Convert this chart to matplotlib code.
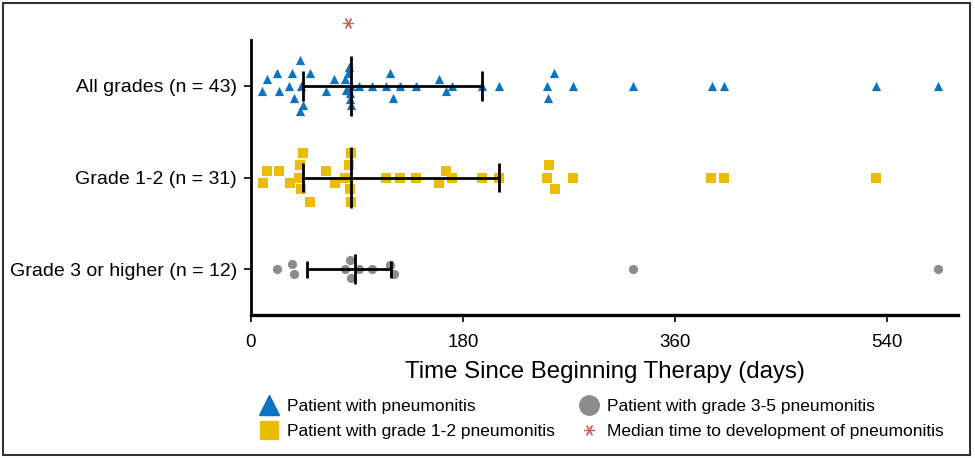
import matplotlib
matplotlib.use('Agg')
import matplotlib.pyplot as plt
from matplotlib.lines import Line2D
from matplotlib.patches import Rectangle

plt.rcParams['font.family'] = ['Liberation Sans', 'DejaVu Sans']

# Row labels, bottom to top
rows = ['Grade 3 or higher (n = 12)', 'Grade 1-2 (n = 31)', 'All grades (n = 43)']
xticks = [0, 180, 360, 540]

# Days since start of therapy for each patient, plus the swarm offset of each dot
all_days = [9.6, 13.8, 21.8, 23.7, 32.5, 34.5, 36.7, 41.8, 42.4, 43.8, 41.8, 50.0,
            63.6, 70.6, 79.7, 80.5, 82.5, 83.6, 84.7, 84.2, 84.2, 84.7, 91.8, 102.3,
            114.4, 118.4, 120.9, 126.3, 140.4, 159.3, 165.5, 170.6, 196.0, 210.2,
            251.1, 257.4, 252.3, 273.1, 324.0, 390.9, 401.7, 530.3, 583.3]
all_offset = [-0.06, 0.07, 0.14, -0.06, 0.0, 0.14, -0.13, 0.28, 0.0, -0.21, -0.27, 0.14,
              -0.06, 0.07, 0.07, -0.04, 0.14, 0.21, 0.0, -0.08, -0.14, -0.21, 0.0, 0.0,
              0.0, 0.14, -0.13, 0.0, 0.0, 0.07, -0.06, 0.0, 0.0, 0.0,
              0.0, 0.14, -0.13, 0.0, 0.0, 0.0, 0.0, 0.0, 0.0]

g12_days = [10.2, 13.6, 23.7, 33.1, 40.9, 41.5, 42.4, 44.1, 50.0, 63.3, 71.2, 79.7,
            82.8, 84.5, 83.9, 84.7, 114.4, 126.3, 140.4, 159.3, 165.3, 170.3, 196.4,
            210.2, 250.8, 252.5, 257.6, 272.9, 390.7, 401.7, 530.3]
g12_offset = [-0.06, 0.07, 0.07, -0.06, 0.0, 0.14, -0.13, 0.27, -0.27, 0.07, -0.06, 0.0,
              0.14, 0.27, -0.13, -0.27, 0.0, 0.0, 0.0, -0.06, 0.07, 0.0, 0.0,
              0.0, 0.0, 0.14, -0.13, 0.0, 0.0, 0.0, 0.0]

g35_days = [21.8, 34.5, 36.7, 79.7, 83.9, 84.7, 91.5, 102.3, 118.0, 121.4, 324.0, 583.0]
g35_offset = [0.0, 0.056, -0.048, 0.0, 0.10, -0.09, 0.0, 0.0, 0.05, -0.048, 0.0, 0.0]

# Median and interquartile range per row (bottom to top)
q1 = [47.5, 43.8, 43.8]
med = [88.1, 84.5, 84.5]
q3 = [119.2, 210.2, 196.0]
overall_median = 82.2

blue = '#0a74c2'
gold = '#ecbc00'
grey = '#8c8c8c'
red = '#c8625a'

fig = plt.figure(figsize=(9.75, 4.58), dpi=100)
ax = fig.add_axes([0.2574, 0.312, 0.7252, 0.6007])

ax.scatter(all_days, [2 + o for o in all_offset], marker='^', s=44,
           color=blue, linewidths=0, zorder=2)
ax.scatter(g12_days, [1 + o for o in g12_offset], marker='s', s=42,
           color=gold, linewidths=0, zorder=2)
ax.scatter(g35_days, [0 + o for o in g35_offset], marker='o', s=44,
           color=grey, linewidths=0, zorder=2)

# Median with interquartile range
cap_h = [0.09, 0.16, 0.16]
med_h = [0.165, 0.33, 0.33]
for i in range(3):
    ax.hlines(i, q1[i], q3[i], color='black', lw=2, zorder=3)
    ax.vlines([q1[i], q3[i]], i - cap_h[i], i + cap_h[i], color='black', lw=2, zorder=3)
    ax.vlines(med[i], i - med_h[i], i + med_h[i], color='black', lw=2, zorder=3)

ax.plot([overall_median], [2.69], marker=(6, 2, 90), markersize=8, color=red,
        markeredgewidth=0.9, linestyle='none', clip_on=False)

ax.set_xlim(0, 600)
ax.set_ylim(-0.5, 2.5)
ax.set_xticks(xticks)
ax.set_xticklabels([str(t) for t in xticks], fontsize=13.5)
ax.set_yticks([0, 1, 2])
ax.set_yticklabels(rows, fontsize=14)
ax.tick_params(axis='y', direction='out', length=5, width=1.2, pad=5)
ax.tick_params(axis='x', direction='out', length=5, width=1.2, pad=8.5)
ax.spines['top'].set_visible(False)
ax.spines['right'].set_visible(False)
ax.spines['left'].set_linewidth(2)
ax.spines['bottom'].set_linewidth(2.4)
ax.set_xlabel('Time Since Beginning Therapy (days)', fontsize=17.3,
              family=['Liberation Sans Narrow', 'Liberation Sans'], labelpad=7)

handles = [
    Line2D([], [], marker='^', color=blue, linestyle='none', markersize=14),
    Line2D([], [], marker='s', color=gold, linestyle='none', markersize=13),
    Line2D([], [], marker='o', color=grey, linestyle='none', markersize=14),
    Line2D([], [], marker=(6, 2, 90), color=red, linestyle='none', markersize=8,
           markeredgewidth=0.9),
]
labels = ['Patient with pneumonitis', 'Patient with grade 1-2 pneumonitis',
          'Patient with grade 3-5 pneumonitis', 'Median time to development of pneumonitis']
fig.legend(handles, labels, ncol=2, loc='upper left', bbox_to_anchor=(0.266, 0.13),
           frameon=False, fontsize=12.5, handlelength=1.1, handletextpad=0.5,
           columnspacing=1.4, labelspacing=0.6, borderaxespad=0, borderpad=0)

fig.add_artist(Rectangle((0.003, 0.006), 0.992, 0.988, transform=fig.transFigure,
                         fill=False, edgecolor='#333333', lw=1.5))

fig.savefig('out.png', dpi=100)
